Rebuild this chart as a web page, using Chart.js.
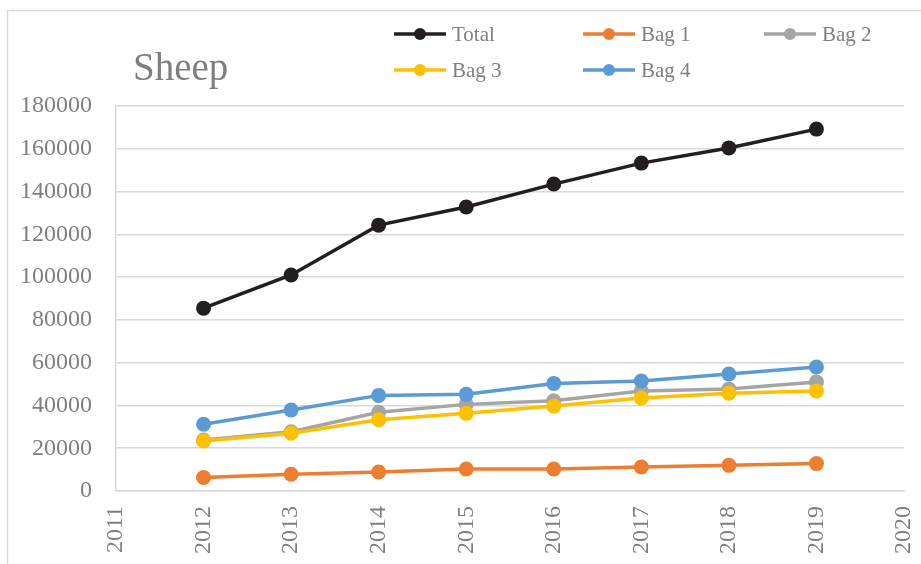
<!DOCTYPE html>
<html>
<head>
<meta charset="utf-8">
<script src="https://cdn.jsdelivr.net/npm/chart.js@4/dist/chart.umd.min.js"></script>
<style>
  html, body { margin: 0; padding: 0; background: #fff; }
  #wrap { width: 921px; height: 564px; }
</style>
</head>
<body>
<div id="wrap"><canvas id="sheepChart" width="921" height="564"></canvas></div>
<script>
// Sheep numbers per year
const years = [2012, 2013, 2014, 2015, 2016, 2017, 2018, 2019];
const total = [85500, 101000, 124300, 132800, 143500, 153300, 160400, 169200];
const bag1 = [6300, 7800, 8900, 10300, 10300, 11200, 12000, 12800];
const bag2 = [23800, 27700, 36800, 40500, 42200, 46800, 47700, 51000];
const bag3 = [23400, 27000, 33300, 36300, 39700, 43500, 45700, 46800];
const bag4 = [31200, 37900, 44700, 45200, 50300, 51400, 54700, 58000];
const seriesNames = ['Total', 'Bag 1', 'Bag 2', 'Bag 3', 'Bag 4'];
const seriesValues = [total, bag1, bag2, bag3, bag4];
const seriesColors = ['#231f20', '#ed7d31', '#a5a5a5', '#ffc000', '#5b9bd5'];

const serif = '"Liberation Serif", "DejaVu Serif", serif';
const textGray = '#7f7f7f';

// frame, title and two-row legend
const decorations = {
    id: 'decorations',
    beforeDraw(chart) {
        const ctx = chart.ctx;
        ctx.save();
        ctx.fillStyle = '#fff';
        ctx.fillRect(0, 0, chart.width, chart.height);
        ctx.strokeStyle = '#d9d9d9';
        ctx.lineWidth = 1.5;
        ctx.strokeRect(7.5, 10.5, 940, 580);
        ctx.restore();
    },
    afterDraw(chart) {
        const ctx = chart.ctx;
        ctx.save();
        ctx.fillStyle = textGray;
        ctx.font = '39px ' + serif;
        ctx.textBaseline = 'alphabetic';
        ctx.fillText('Sheep', 133, 80);

        const cols = [394, 583, 764];
        const rows = [34, 70];
        ctx.font = '21px ' + serif;
        ctx.textBaseline = 'middle';
        chart.data.datasets.forEach((ds, i) => {
            const x = cols[i % 3];
            const y = rows[Math.floor(i / 3)];
            ctx.strokeStyle = ds.borderColor;
            ctx.lineWidth = 3.5;
            ctx.beginPath();
            ctx.moveTo(x, y);
            ctx.lineTo(x + 52, y);
            ctx.stroke();
            ctx.fillStyle = ds.backgroundColor;
            ctx.beginPath();
            ctx.arc(x + 26, y, 6, 0, Math.PI * 2);
            ctx.fill();
            ctx.fillStyle = textGray;
            ctx.fillText(ds.label, x + 58, y + 1);
        });
        ctx.restore();
    }
};

const datasets = seriesNames.map((name, i) => ({
    label: name,
    data: years.map((y, j) => ({ x: y, y: seriesValues[i][j] })),
    borderColor: seriesColors[i],
    backgroundColor: seriesColors[i],
    borderWidth: 3.5,
    pointRadius: 7.5,
    pointHoverRadius: 7.5,
    pointBorderWidth: 0,
    tension: 0,
    order: seriesNames.length - i
}));

new Chart(document.getElementById('sheepChart').getContext('2d'), {
    type: 'line',
    data: { datasets: datasets },
    plugins: [decorations],
    options: {
        responsive: false,
        animation: false,
        layout: { padding: { top: 106, right: 17, bottom: 0, left: 0 } },
        plugins: {
            legend: { display: false },
            title: { display: false },
            tooltip: { enabled: false }
        },
        scales: {
            x: {
                type: 'linear',
                min: 2011,
                max: 2020,
                grid: { display: false, drawTicks: false },
                border: { color: '#d9d9d9', width: 1.5 },
                ticks: {
                    stepSize: 1,
                    maxRotation: 90,
                    minRotation: 90,
                    padding: 15,
                    color: textGray,
                    font: { family: serif, size: 24 },
                    callback: v => String(v)
                },
                afterFit: scale => {
                    scale.height = 73;
                    scale.paddingLeft = 0;
                    scale.paddingRight = 0;
                }
            },
            y: {
                min: 0,
                max: 180000,
                grid: { color: '#d9d9d9', lineWidth: 1.5, drawTicks: false },
                border: { color: '#d9d9d9', width: 1.5 },
                ticks: {
                    stepSize: 20000,
                    padding: 24,
                    color: textGray,
                    font: { family: serif, size: 24 },
                    callback: v => String(v)
                },
                afterFit: scale => { scale.width = 116; }
            }
        }
    }
});
</script>
</body>
</html>
